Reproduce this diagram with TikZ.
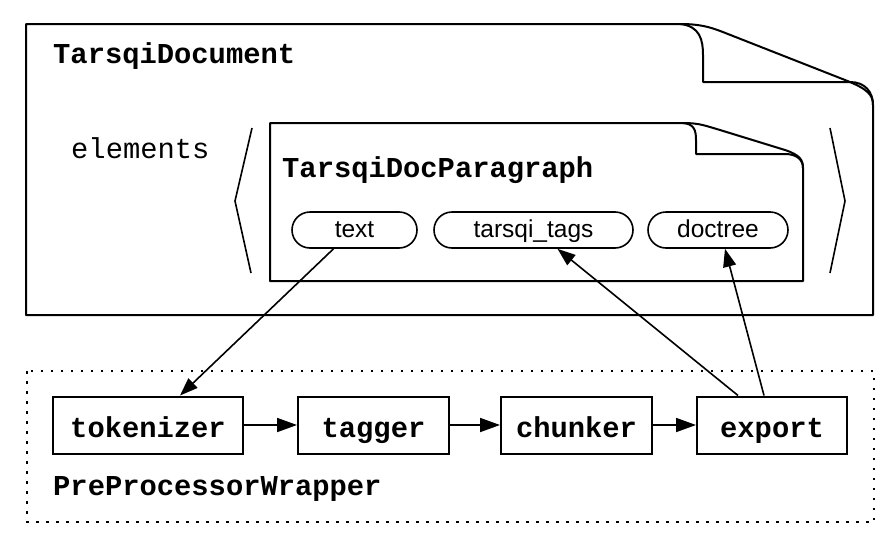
\documentclass[tikz,border=0pt]{standalone}
\usepackage{fontspec}
\setmonofont{Liberation Mono}
\setsansfont{Liberation Sans}
\usetikzlibrary{arrows.meta,shapes.misc}
\begin{document}
\begin{tikzpicture}[x=1pt,y=-1pt,
  monolbl/.style={font=\ttfamily\bfseries\fontsize{28.8}{30}\selectfont,inner sep=0pt},
  monoreg/.style={font=\ttfamily\fontsize{28.8}{30}\selectfont,inner sep=0pt},
  pill/.style={draw,line width=1.6pt,rounded rectangle,minimum height=36pt,inner sep=0pt,
    text height=18pt,text depth=4pt,
    font=\sffamily\fontsize{24.5}{26}\selectfont},
  stagebox/.style={draw,line width=2pt,minimum height=57pt,inner sep=0pt,
    text height=28pt,text depth=4pt,
    font=\ttfamily\bfseries\fontsize{28.8}{30}\selectfont},
  flow/.style={line width=1.8pt,-{Triangle[length=20pt,width=14pt]}},
  link/.style={line width=1.6pt,-{Triangle[length=18pt,width=13pt]}},
  docline/.style={line width=2pt,line join=round}]
\useasboundingbox (0,0) rectangle (896,546);
% outer document
\draw[docline] (26,24) -- (680,24)
  .. controls (705,24) and (715,29) .. (733,36) -- (845,80)
  .. controls (868,89) and (873,95) .. (873,105) -- (873,315) -- (26,315) -- cycle;
\draw[docline] (680,24) .. controls (700,26) and (703,40) .. (703,55) -- (703,82) -- (850,82)
  .. controls (865,82) and (873,92) .. (873,105);
\node[monolbl,anchor=base west] (tdoc) at (53,63) {TarsqiDocument};
\node[monoreg,anchor=base west] (elems) at (71,158) {elements};
% brackets
\draw[line width=1.6pt] (252,128) -- (235,201) -- (251,273);
\draw[line width=1.6pt] (830,128) -- (845,201) -- (830,273);
% inner paragraph
\draw[docline] (270,123) -- (683,123)
  .. controls (700,123) and (706,126) .. (720,130) -- (785,150)
  .. controls (800,155) and (803,160) .. (803,168) -- (803,281) -- (270,281) -- cycle;
\draw[docline] (683,123) .. controls (694,124) and (696,130) .. (696,140) -- (696,154) -- (785,154)
  .. controls (797,154) and (803,160) .. (803,168);
\node[monolbl,anchor=base west] (tpar) at (282,177) {TarsqiDocParagraph};
\node[pill,minimum width=125pt] (text) at (354.5,230) {text};
\node[pill,minimum width=199pt] (tags) at (533.5,230) {tarsqi\_tags};
\node[pill,minimum width=140pt] (doctree) at (718,230) {doctree};
% preprocessor wrapper
\draw[line width=2pt,dash pattern=on 2.5pt off 7.5pt] (27,371) rectangle (874,522);
\node[monolbl,anchor=base west] (ppw) at (53,495) {PreProcessorWrapper};
\node[stagebox,minimum width=190pt] (tok) at (148,425) {tokenizer};
\node[stagebox,minimum width=151pt] (tag) at (373.5,425) {tagger};
\node[stagebox,minimum width=151pt] (chunk) at (576.5,425) {chunker};
\node[stagebox,minimum width=150pt] (export) at (772,425) {export};
\draw[flow] (tok) -- (tag);
\draw[flow] (tag) -- (chunk);
\draw[flow] (chunk) -- (export);
\draw[link] ([xshift=-21pt]text.south) -- ([xshift=32pt]tok.north);
\draw[link] ([xshift=-34pt]export.north) -- ([xshift=24pt]tags.south);
\draw[link] ([xshift=-8pt]export.north) -- ([xshift=7pt]doctree.south);
\end{tikzpicture}
\end{document}
